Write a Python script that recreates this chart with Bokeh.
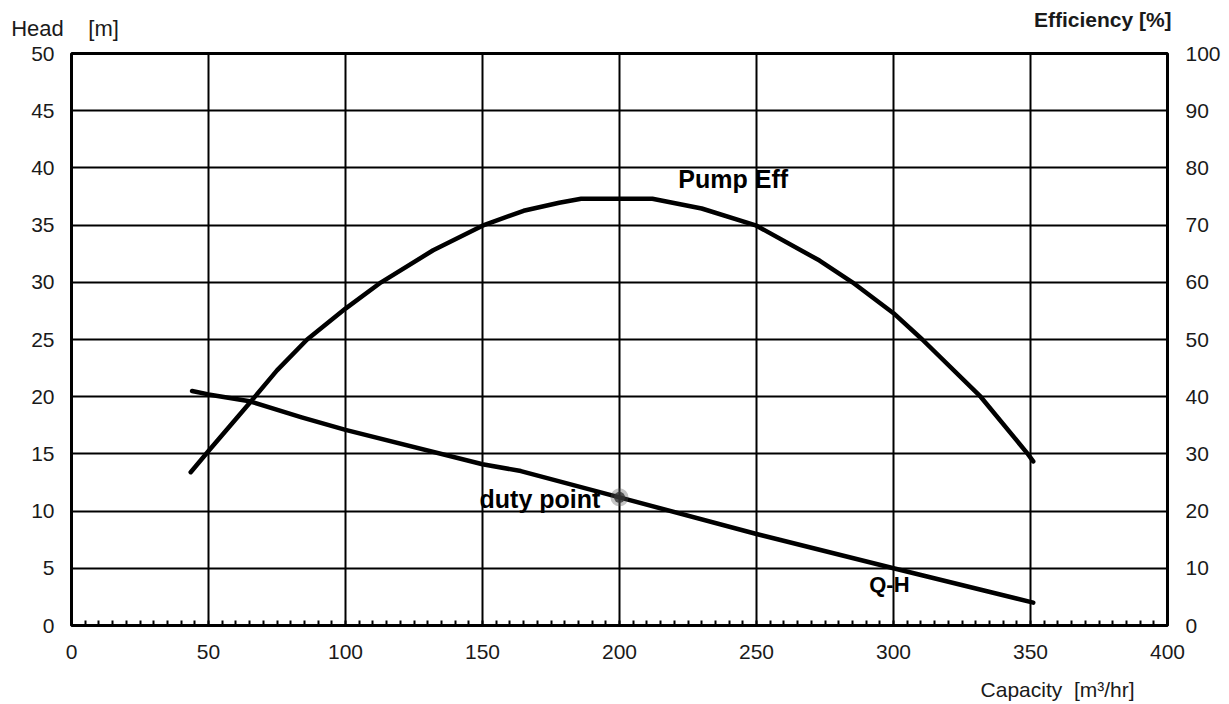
from bokeh.plotting import figure
from bokeh.models import (Range1d, LinearAxis, SingleIntervalTicker, Label,
                          ColumnDataSource)
from bokeh.embed import file_html
from bokeh.resources import INLINE

# ---- data ----
qh_capacity = [44, 50, 65, 84, 100, 150, 164, 200, 250, 300, 351]
qh_head = [20.5, 20.2, 19.6, 18.2, 17.1, 14.1, 13.5, 11.2, 8.0, 5.0, 2.0]

eff_capacity = [43.5, 50, 65, 75, 86, 100, 113, 132, 150, 165, 178, 186, 212,
                230, 250, 273, 285, 300, 310.5, 331.8, 349, 351]
eff_values = [26.8, 30.5, 38.9, 44.6, 50.0, 55.4, 60.0, 65.6, 69.9, 72.5, 73.9,
              74.6, 74.6, 72.9, 69.9, 63.8, 60.0, 54.6, 50.0, 40.0, 30.0, 28.7]

duty_capacity = [200]
duty_head = [11.2]

FONT = "Liberation Sans"
TXT = "#1a1a1a"

p = figure(frame_width=1096, frame_height=572,
           min_border_left=71, min_border_right=60,
           min_border_top=53, min_border_bottom=78,
           x_range=Range1d(0, 400), y_range=Range1d(0, 50),
           output_backend="svg", toolbar_location=None,
           background_fill_color="white", border_fill_color="white")
p.extra_y_ranges = {"eff": Range1d(0, 100)}

p.outline_line_color = "black"
p.outline_line_width = 3

# grids
p.xgrid.ticker = SingleIntervalTicker(interval=50)
p.ygrid.ticker = SingleIntervalTicker(interval=5)
for g in (p.xgrid, p.ygrid):
    g.grid_line_color = "black"
    g.grid_line_width = 2
    g.grid_line_alpha = 1.0

# bottom axis
xa = p.xaxis[0]
xa.ticker = SingleIntervalTicker(interval=50, num_minor_ticks=10)
xa.axis_line_color = None
xa.major_tick_in = 0
xa.major_tick_out = 0
xa.minor_tick_in = 5
xa.minor_tick_out = 0
xa.minor_tick_line_color = "black"
xa.minor_tick_line_width = 2
xa.major_label_standoff = 19
xa.major_label_text_font = FONT
xa.major_label_text_font_size = "21px"
xa.major_label_text_color = TXT

# left axis
ya = p.yaxis[0]
ya.ticker = SingleIntervalTicker(interval=5)
ya.axis_line_color = None
ya.major_tick_in = 0
ya.major_tick_out = 0
ya.minor_tick_in = 0
ya.minor_tick_out = 0
ya.major_label_standoff = 17
ya.major_label_text_font = FONT
ya.major_label_text_font_size = "21px"
ya.major_label_text_color = TXT

# right axis
ra = LinearAxis(y_range_name="eff", ticker=SingleIntervalTicker(interval=10))
ra.axis_line_color = None
ra.major_tick_in = 0
ra.major_tick_out = 0
ra.minor_tick_in = 0
ra.minor_tick_out = 0
ra.major_label_standoff = 18
ra.major_label_text_font = FONT
ra.major_label_text_font_size = "21px"
ra.major_label_text_color = TXT
p.add_layout(ra, "right")

# curves
p.line(qh_capacity, qh_head, line_color="black", line_width=4.5,
       line_join="round", line_cap="round")
p.line(eff_capacity, eff_values, y_range_name="eff", line_color="black",
       line_width=4.5, line_join="round", line_cap="round")

# duty point (blurred grey dot)
dsrc = ColumnDataSource(dict(x=duty_capacity, y=duty_head))
p.scatter("x", "y", source=dsrc, size=18, color="#555555", alpha=0.35, line_color=None)
p.scatter("x", "y", source=dsrc, size=11, color="#333333", alpha=0.8, line_color=None)

# curve labels
p.add_layout(Label(x=duty_capacity[0] - 7, y=duty_head[0] - 0.1, text="duty point",
                   text_align="right", text_baseline="middle",
                   text_font=FONT, text_font_style="bold",
                   text_font_size="25px", text_color="black"))
p.add_layout(Label(x=241.5, y=39.0, text="Pump Eff",
                   text_align="center", text_baseline="middle",
                   text_font=FONT, text_font_style="bold",
                   text_font_size="25px", text_color="black"))
p.add_layout(Label(x=298.5, y=3.6, text="Q-H",
                   text_align="center", text_baseline="middle",
                   text_font=FONT, text_font_style="bold",
                   text_font_size="22px", text_color="black"))

# axis titles (placed in side panels so they are not clipped to the frame)
p.add_layout(Label(x=-22, y=52.2, text="Head\u00a0\u00a0\u00a0\u00a0[m]",
                   text_align="left", text_baseline="middle",
                   text_font=FONT, text_font_size="22px", text_color=TXT), "above")
p.add_layout(Label(x=401.5, y=53.0, text="Efficiency [%]",
                   text_align="right", text_baseline="middle",
                   text_font=FONT, text_font_style="bold",
                   text_font_size="21px", text_color=TXT), "above")
p.add_layout(Label(x=388, y=-5.6, text="Capacity\u00a0\u00a0[m\u00b3/hr]",
                   text_align="right", text_baseline="middle",
                   text_font=FONT, text_font_size="21px", text_color=TXT), "below")

open("out.html", "w").write(file_html(p, INLINE))
